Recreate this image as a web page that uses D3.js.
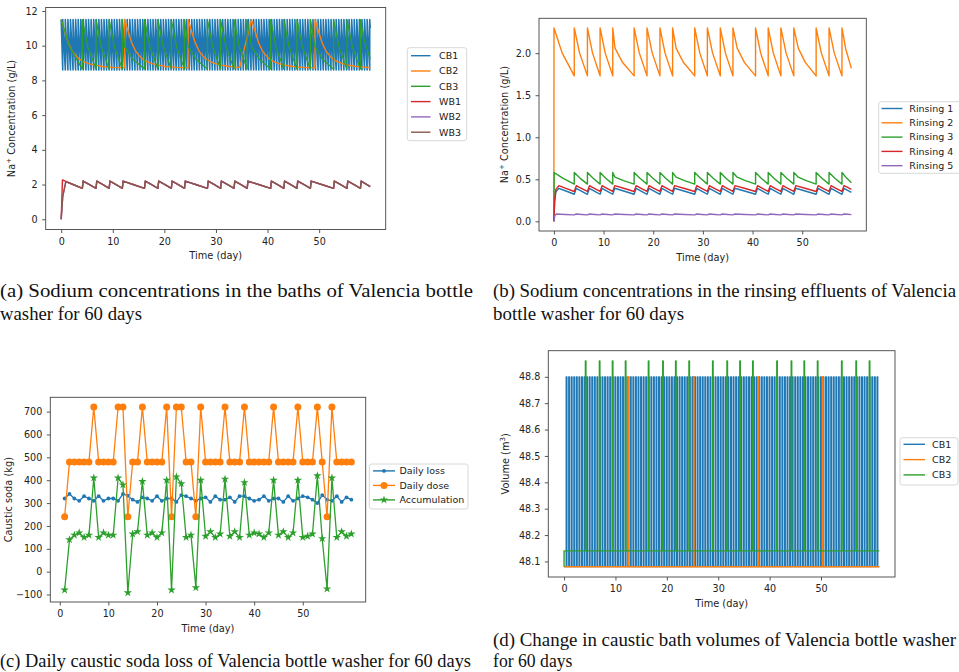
<!DOCTYPE html>
<html>
<head>
<meta charset="utf-8">
<script src="https://cdn.jsdelivr.net/npm/d3@7"></script>
<style>
  body { margin: 0; background: #fff; }
  svg { display: block; }
  text { font-family: "DejaVu Sans", sans-serif; fill: #222; }
  .axis text { font-size: 9.6px; fill: #222; }
  .axis line { stroke: #444; stroke-width: 0.9; }
  .caption { font-family: "Liberation Serif", serif; fill: #111; }
</style>
</head>
<body>
<svg id="fig" width="959" height="672"></svg>
<script>
// ---------------------------------------------------------------- data
var xTicks = [0, 10, 20, 30, 40, 50];

// (a)+(b): days of the WB / rinsing dosing spikes, and of the CB2 renewals
var dosingDays = [0, 4.1, 6.75, 9.3, 11.85, 16.15, 18.75, 21.35, 23.9, 28.35, 30.9, 33.5, 36.05, 40.6, 43.15, 45.7, 48.3, 52.8, 55.4, 58.0];
var cb2RenewDays = [0, 12.3, 24.6, 36.9, 49.2];
var lastDay = 59.9;

// (a) bath concentrations (g/L)
var bathNames = ["CB1", "CB2", "CB3", "WB1", "WB2", "WB3"];
var concTicksA = [0, 2, 4, 6, 8, 10, 12];
var cb1Days = [0.3, 0.8, 1.3, 1.8, 2.3, 2.8, 3.3, 3.8, 4.3, 4.8,
  5.3, 5.8, 6.3, 6.8, 7.3, 7.8, 8.3, 8.8, 9.3, 9.8,
  10.3, 10.8, 11.3, 11.8, 12.3, 12.8, 13.3, 13.8, 14.3, 14.8,
  15.3, 15.8, 16.3, 16.8, 17.3, 17.8, 18.3, 18.8, 19.3, 19.8,
  20.3, 20.8, 21.3, 21.8, 22.3, 22.8, 23.3, 23.8, 24.3, 24.8,
  25.3, 25.8, 26.3, 26.8, 27.3, 27.8, 28.3, 28.8, 29.3, 29.8,
  30.3, 30.8, 31.3, 31.8, 32.3, 32.8, 33.3, 33.8, 34.3, 34.8,
  35.3, 35.8, 36.3, 36.8, 37.3, 37.8, 38.3, 38.8, 39.3, 39.8,
  40.3, 40.8, 41.3, 41.8, 42.3, 42.8, 43.3, 43.8, 44.3, 44.8,
  45.3, 45.8, 46.3, 46.8, 47.3, 47.8, 48.3, 48.8, 49.3, 49.8,
  50.3, 50.8, 51.3, 51.8, 52.3, 52.8, 53.3, 53.8, 54.3, 54.8,
  55.3, 55.8, 56.3, 56.8, 57.3, 57.8, 58.3, 58.8, 59.3, 59.8];
var cb1Levels = [11.5, 8.6];                 // peak, trough
var cb2Decay = [[0, 11.5], [0.7, 10.8], [1.4, 10.15], [2.2, 9.65], [3.3, 9.27], [4.3, 9.08],
  [5.3, 8.97], [6.5, 8.88], [8, 8.8], [10, 8.75], [12.3, 8.72]];   // [days after renewal, g/L]
var cb2EndValue = 8.73;
var cb3Levels = [11.5, 9.95, 8.65, 9.25];     // peak, kink at CB2 renewal, trough, last value
var wbLevels = [2.2, null, 1.78, 1.88];
var wb1Start = [[0, 0], [0.25, 2.27], [0.8, 2.2]];
var wb23Start = [[0, 0], [0.3, 1.3], [0.9, 2.17]];

// (b) rinsing effluents (g/L)
var rinseNames = ["Rinsing 1", "Rinsing 2", "Rinsing 3", "Rinsing 4", "Rinsing 5"];
var concTicksB = [0, 0.5, 1, 1.5, 2];
var rinse1Levels = [0.393, null, 0.322, 0.345];
var rinse2Levels = [2.3, 2.06, 1.73, 1.82];
var rinse3Levels = [0.58, 0.525, 0.443, 0.46];
var rinse4Levels = [0.425, null, 0.355, 0.38];
var rinse5Levels = [0.087, null, 0.077, 0.08];
var rinse1Start = [[0, 0], [0.15, 0.23], [0.4, 0.35], [1.0, 0.393]];
var rinse2Start = [[0, 0], [0.02, 2.3]];
var rinse3Start = [[0, 0], [0.05, 0.58]];
var rinse4Start = [[0, 0], [0.15, 0.26], [0.4, 0.38], [1.0, 0.425]];
var rinse5Start = [[0, 0], [0.2, 0.07], [0.5, 0.087]];

// (c) daily caustic soda (kg)
var sodaNames = ["Daily loss", "Daily dose", "Accumulation"];
var sodaTicks = [-100, 0, 100, 200, 300, 400, 500, 600, 700];
var sodaDays = [1, 2, 3, 4, 5, 6, 7, 8, 9, 10, 11, 12, 13, 14, 15, 16, 17, 18, 19, 20,
  21, 22, 23, 24, 25, 26, 27, 28, 29, 30, 31, 32, 33, 34, 35, 36, 37, 38, 39, 40,
  41, 42, 43, 44, 45, 46, 47, 48, 49, 50, 51, 52, 53, 54, 55, 56, 57, 58, 59, 60];
var dailyLoss = [320, 340, 320, 310, 330, 320, 310, 330, 310, 320,
  320, 310, 340, 332, 315, 305, 325, 320, 310, 330,
  310, 320, 320, 305, 335, 330, 320, 310, 320, 325,
  305, 330, 315, 315, 325, 305, 330, 330, 320, 310,
  315, 330, 310, 320, 320, 305, 330, 310, 320, 330,
  325, 315, 300, 335, 315, 310, 330, 305, 325, 315];
var dailyDose = [240, 480, 480, 480, 480, 480, 720, 480, 480, 480,
  480, 720, 720, 240, 480, 480, 720, 480, 480, 480,
  480, 720, 240, 720, 720, 480, 480, 240, 720, 480,
  480, 480, 480, 720, 480, 480, 480, 720, 480, 480,
  480, 480, 480, 720, 480, 480, 480, 480, 720, 480,
  480, 480, 720, 480, 240, 720, 480, 480, 480, 480];
var accumulation = [-80, 140, 160, 170, 150, 160, 410, 150, 170, 160,
  160, 410, 380, -92, 165, 175, 395, 160, 170, 150,
  170, 400, -80, 415, 385, 150, 160, -70, 400, 155,
  175, 150, 165, 405, 155, 175, 150, 390, 160, 170,
  165, 150, 170, 400, 160, 175, 150, 170, 400, 150,
  155, 165, 420, 145, -75, 410, 150, 175, 155, 165];

// (d) caustic bath volumes (m3)
var volTicks = [48.1, 48.2, 48.3, 48.4, 48.5, 48.6, 48.7, 48.8];
var volLastDay = 61.35;
var cb1VolDays = [0.4, 0.9, 1.4, 1.9, 2.4, 2.9, 3.4, 3.9, 4.4, 4.9,
  5.4, 5.9, 6.4, 6.9, 7.4, 7.9, 8.4, 8.9, 9.4, 9.9,
  10.4, 10.9, 11.4, 11.9, 12.4, 12.9, 13.4, 13.9, 14.4, 14.9,
  15.4, 15.9, 16.4, 16.9, 17.4, 17.9, 18.4, 18.9, 19.4, 19.9,
  20.4, 20.9, 21.4, 21.9, 22.4, 22.9, 23.4, 23.9, 24.4, 24.9,
  25.4, 25.9, 26.4, 26.9, 27.4, 27.9, 28.4, 28.9, 29.4, 29.9,
  30.4, 30.9, 31.4, 31.9, 32.4, 32.9, 33.4, 33.9, 34.4, 34.9,
  35.4, 35.9, 36.4, 36.9, 37.4, 37.9, 38.4, 38.9, 39.4, 39.9,
  40.4, 40.9, 41.4, 41.9, 42.4, 42.9, 43.4, 43.9, 44.4, 44.9,
  45.4, 45.9, 46.4, 46.9, 47.4, 47.9, 48.4, 48.9, 49.4, 49.9,
  50.4, 50.9, 51.4, 51.9, 52.4, 52.9, 53.4, 53.9, 54.4, 54.9,
  55.4, 55.9, 56.4, 56.9, 57.4, 57.9, 58.4, 58.9, 59.4, 59.9,
  60.4, 60.9];
var cb2VolDays = [12.5, 25.2, 37.8, 50.3];
var cb3VolDays = [4.15, 6.87, 9.4, 11.93, 16.4, 19.2, 21.7, 24.3, 28.9, 31.7, 34.2, 36.7, 41.4, 44.2, 46.7, 49.3, 54.0, 56.8, 59.4];
var cb12Vol = [48.08, 48.8];     // base, top
var cb3Vol = [48.14, 48.86];

var colors = ["#1f77b4", "#ff7f0e", "#2ca02c", "#d62728", "#9467bd", "#8c564b"];

// ---------------------------------------------------------------- series builders
// Sawtooth: jump to the peak at each dosing day, decay to the trough at the next one.
// lv = [peak, kink, trough, last]; shape = [time fraction, drop fraction] of the decay's midpoint
function sawtooth(start, lv, rise, shape) {
  var pts = start.slice(), peak = lv[0], kink = lv[1], trough = lv[2];
  dosingDays.forEach(function (e, i) {
    var last = i === dosingDays.length - 1;
    var n = last ? lastDay : dosingDays[i + 1];
    var t0, v0;
    if (i === 0) {
      t0 = pts[pts.length - 1][0]; v0 = pts[pts.length - 1][1];
    } else {
      pts.push([e + rise, peak]); t0 = e + rise; v0 = peak;
    }
    var r = cb2RenewDays.find(function (d) { return d > e && d < n; });
    if (kink != null && r != null) { pts.push([r, kink]); t0 = r; v0 = kink; }
    var vEnd = last ? lv[3] : trough;
    pts.push([t0 + shape[0] * (n - t0), v0 - shape[1] * (v0 - vEnd)]);
    pts.push([n, vEnd]);
  });
  return pts;
}

function cb1Series() {
  var pts = [[0, cb1Levels[0]]];
  cb1Days.forEach(function (d) { pts.push([d, cb1Levels[1]], [d, cb1Levels[0]]); });
  pts.push([lastDay, 11.0]);
  return pts;
}

function cb2Series() {
  var pts = [];
  cb2RenewDays.forEach(function (r, i) {
    var n = i < cb2RenewDays.length - 1 ? cb2RenewDays[i + 1] : lastDay;
    cb2Decay.forEach(function (d) { if (r + d[0] <= n) pts.push([r + d[0], d[1]]); });
  });
  pts.push([lastDay, cb2EndValue]);
  return pts;
}

function pulses(days, lv, width, start) {
  var pts = start.slice();
  days.forEach(function (d) {
    pts.push([d, lv[0]], [d, lv[1]], [d + width, lv[1]], [d + width, lv[0]]);
  });
  pts.push([volLastDay, lv[0]]);
  return pts;
}

// ---------------------------------------------------------------- drawing helpers
var fig = d3.select("#fig");
var clipCount = 0;

function makePanel(box, xDom, yDom) {
  var id = "clip" + (clipCount++);
  fig.append("clipPath").attr("id", id).append("rect")
    .attr("x", box.x0).attr("y", box.y0)
    .attr("width", box.x1 - box.x0).attr("height", box.y1 - box.y0);
  var g = fig.append("g");
  return {
    box: box, g: g,
    plot: g.append("g").attr("clip-path", "url(#" + id + ")"),
    x: d3.scaleLinear().domain(xDom).range([box.x0, box.x1]),
    y: d3.scaleLinear().domain(yDom).range([box.y1, box.y0])
  };
}

function drawLine(p, pts, color, width) {
  var line = d3.line().x(function (d) { return p.x(d[0]); }).y(function (d) { return p.y(d[1]); });
  p.plot.append("path").datum(pts)
    .attr("d", line).attr("fill", "none")
    .attr("stroke", color).attr("stroke-width", width || 1.4)
    .attr("stroke-linejoin", "round");
}

function finishAxes(p, yTicks, yFmt, yLabel, yLabelX) {
  p.g.append("g").attr("class", "axis").attr("transform", "translate(0," + p.box.y1 + ")")
    .call(d3.axisBottom(p.x).tickValues(xTicks).tickSize(3.5).tickPadding(5).tickSizeOuter(0));
  p.g.append("g").attr("class", "axis").attr("transform", "translate(" + p.box.x0 + ",0)")
    .call(d3.axisLeft(p.y).tickValues(yTicks).tickFormat(yFmt).tickSize(3.5).tickPadding(4.5).tickSizeOuter(0));
  p.g.selectAll(".domain").remove();
  p.g.append("rect")
    .attr("x", p.box.x0).attr("y", p.box.y0)
    .attr("width", p.box.x1 - p.box.x0).attr("height", p.box.y1 - p.box.y0)
    .attr("fill", "none").attr("stroke", "#444").attr("stroke-width", 0.9);
  p.g.append("text")
    .attr("x", (p.box.x0 + p.box.x1) / 2).attr("y", p.box.y1 + 29.5)
    .attr("text-anchor", "middle").style("font-size", "9.8px")
    .text("Time (day)");
  var t = p.g.append("text")
    .attr("transform", "translate(" + yLabelX + "," + (p.box.y0 + p.box.y1) / 2 + ") rotate(-90)")
    .attr("text-anchor", "middle").style("font-size", "9.8px");
  yLabel(t);
}

function marker(g, type, cx, cy, color) {
  if (type === "dot") {
    g.append("circle").attr("cx", cx).attr("cy", cy).attr("r", 1.9).attr("fill", color);
  } else if (type === "circle") {
    g.append("circle").attr("cx", cx).attr("cy", cy).attr("r", 3.5).attr("fill", color);
  } else if (type === "star") {
    g.append("path").attr("d", d3.symbol(d3.symbolStar, 22)())
      .attr("transform", "translate(" + cx + "," + cy + ")").attr("fill", color);
  }
}

function legend(spec, names, markers) {
  var lg = fig.append("g");
  lg.append("rect")
    .attr("x", spec.x).attr("y", spec.y).attr("width", spec.w).attr("height", spec.h)
    .attr("rx", 2.5).attr("fill", "#fff").attr("fill-opacity", 0.8)
    .attr("stroke", "#d4d4d4").attr("stroke-width", 0.9);
  names.forEach(function (name, i) {
    var cy = spec.row0 + i * spec.step;
    lg.append("line").attr("x1", spec.l0).attr("x2", spec.l1).attr("y1", cy).attr("y2", cy)
      .attr("stroke", colors[i]).attr("stroke-width", 1.4);
    if (markers) marker(lg, markers[i], (spec.l0 + spec.l1) / 2, cy, colors[i]);
    lg.append("text").attr("x", spec.tx).attr("y", cy).attr("dy", "0.35em")
      .style("font-size", "9.5px").text(name);
  });
}

function naLabel(t) {
  t.append("tspan").text("Na");
  t.append("tspan").attr("dy", -3.5).style("font-size", "7px").text("+");
  t.append("tspan").attr("dy", 3.5).text(" Concentration (g/L)");
}

// ---------------------------------------------------------------- (a)
var pa = makePanel({ x0: 45.7, x1: 385.7, y0: 7.5, y1: 229.5 }, [-3.0, 62.9], [-0.59, 12.2]);
drawLine(pa, cb1Series(), colors[0], 1.6);
drawLine(pa, cb2Series(), colors[1]);
drawLine(pa, sawtooth([[0, cb3Levels[0]]], cb3Levels, 0, [0.4, 0.55]), colors[2], 1.3);
drawLine(pa, sawtooth(wb1Start, wbLevels, 0.15, [0.5, 0.5]), colors[3]);
drawLine(pa, sawtooth(wb23Start, wbLevels, 0.15, [0.5, 0.5]), colors[4]);
drawLine(pa, sawtooth(wb23Start, wbLevels, 0.15, [0.5, 0.5]), colors[5]);
finishAxes(pa, concTicksA, d3.format("d"), naLabel, 14.5);
legend({ x: 407.3, y: 47.7, w: 59.4, h: 93, row0: 55.7, step: 15.3, l0: 411, l1: 430.5, tx: 439 }, bathNames);

// ---------------------------------------------------------------- (b)
var pb = makePanel({ x0: 539, x1: 866.3, y0: 18.3, y1: 231 }, [-3.0, 62.9], [-0.115, 2.415]);
drawLine(pb, sawtooth(rinse1Start, rinse1Levels, 0.4, [0.5, 0.5]), colors[0]);
drawLine(pb, sawtooth(rinse2Start, rinse2Levels, 0, [0.4, 0.52]), colors[1]);
drawLine(pb, sawtooth(rinse3Start, rinse3Levels, 0, [0.45, 0.5]), colors[2]);
drawLine(pb, sawtooth(rinse4Start, rinse4Levels, 0.4, [0.5, 0.5]), colors[3]);
drawLine(pb, sawtooth(rinse5Start, rinse5Levels, 0.4, [0.5, 0.5]), colors[4]);
finishAxes(pb, concTicksB, d3.format(".1f"), naLabel, 507.5);
legend({ x: 878.7, y: 101.7, w: 84, h: 71.6, row0: 108.5, step: 14.3, l0: 881.5, l1: 902.5, tx: 909.3 }, rinseNames);

// ---------------------------------------------------------------- (c)
var pc = makePanel({ x0: 50.3, x1: 365.7, y0: 397.3, y1: 602 }, [-1.95, 62.95], [-132.7, 762.7]);
var sodaSeries = [dailyLoss, dailyDose, accumulation];
var sodaMarkers = ["dot", "circle", "star"];
sodaSeries.forEach(function (vals, k) {
  var pts = sodaDays.map(function (d, i) { return [d, vals[i]]; });
  drawLine(pc, pts, colors[k], 1.3);
  var mg = pc.plot.append("g");
  pts.forEach(function (d) { marker(mg, sodaMarkers[k], pc.x(d[0]), pc.y(d[1]), colors[k]); });
});
finishAxes(pc, sodaTicks, d3.format("d"), function (t) { t.text("Caustic soda (kg)"); }, 11.8);
legend({ x: 369.3, y: 464, w: 98.7, h: 45, row0: 470.9, step: 14.5, l0: 373, l1: 395, tx: 399.5 }, sodaNames, sodaMarkers);

// ---------------------------------------------------------------- (d)
var pd = makePanel({ x0: 548.3, x1: 895, y0: 350.7, y1: 577 }, [-3.07, 64.4], [48.041, 48.899]);
drawLine(pd, pulses(cb1VolDays, cb12Vol, 0.16, [[0, cb12Vol[0]]]), colors[0], 1.2);
drawLine(pd, pulses(cb2VolDays, cb12Vol, 0.1, [[0, cb12Vol[0]]]), colors[1], 1.4);
drawLine(pd, pulses(cb3VolDays, cb3Vol, 0.1, [[0, cb12Vol[0]], [0, cb3Vol[0]]]), colors[2], 1.4);
finishAxes(pd, volTicks, d3.format(".1f"), function (t) {
  t.append("tspan").text("Volume (m");
  t.append("tspan").attr("dy", -3.5).style("font-size", "7px").text("3");
  t.append("tspan").attr("dy", 3.5).text(")");
}, 508.5);
legend({ x: 900, y: 437.7, w: 58, h: 47.3, row0: 444.3, step: 15.3, l0: 903.5, l1: 925, tx: 932 }, bathNames.slice(0, 3));

// ---------------------------------------------------------------- captions
// [text, x, baseline, width, font size]
var captions = [
  ["(a) Sodium concentrations in the baths of Valencia bottle", 0, 297, 473, 19],
  ["washer for 60 days", 0, 320, 142, 19],
  ["(b) Sodium concentrations in the rinsing effluents of Valencia", 493, 297, 463, 18],
  ["bottle washer for 60 days", 493, 320, 191, 19],
  ["(c) Daily caustic soda loss of Valencia bottle washer for 60 days", 0, 667, 471, 19],
  ["(d) Change in caustic bath volumes of Valencia bottle washer", 493, 646, 463, 18.5],
  ["for 60 days", 493, 667, 79.5, 19]
];
fig.selectAll("text.caption").data(captions).enter().append("text")
  .attr("class", "caption")
  .attr("x", function (d) { return d[1]; })
  .attr("y", function (d) { return d[2]; })
  .attr("textLength", function (d) { return d[3]; })
  .attr("lengthAdjust", "spacingAndGlyphs")
  .style("font-size", function (d) { return d[4] + "px"; })
  .text(function (d) { return d[0]; });
</script>
</body>
</html>
